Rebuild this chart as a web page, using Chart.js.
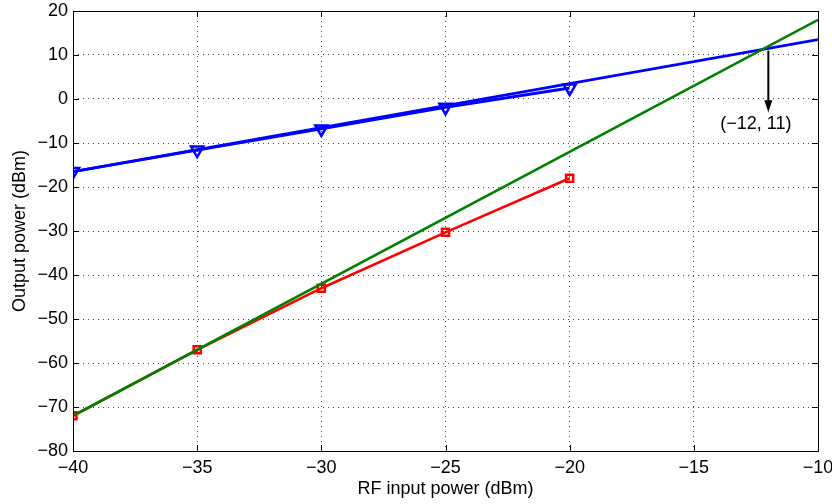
<!DOCTYPE html>
<html><head><meta charset="utf-8">
<script src="https://cdn.jsdelivr.net/npm/chart.js@4/dist/chart.umd.min.js"></script>
<style>html,body{margin:0;padding:0;background:#fff}#wrap{width:832px;height:504px}</style>
</head><body><div id="wrap"><canvas id="c" width="832" height="504"></canvas></div>
<script>
// Data
const inputPower = [-40, -35, -30, -25, -20];
const fundamentalOut = [-16.5, -11.6, -6.8, -1.9, 2.5];
const im3Out = [-72, -57, -43, -30.3, -18];
const fitX = [-40, -10];
const fundamentalFit = [-16.5, 13.5];
const im3Fit = [-72, 18];
const xTicks = [-40, -35, -30, -25, -20, -15, -10];
const yTicks = [20, 10, 0, -10, -20, -30, -40, -50, -60, -70, -80];
const arrowFrom = [-12, 11];
const arrowTo = [-12, -3];
const annotationText = '(\u221212, 11)';
const annotationPos = [-12.5, -5.8];

const pts = (xs, ys) => xs.map((x, i) => ({x, y: ys[i]}));
const minus = v => String(v).replace('-', '\u2212');
const FONT = 'Liberation Sans, Arial, Helvetica, sans-serif';

const boxPlugin = {
  id: 'box',
  afterDatasetsDraw(chart) {
    const {ctx, chartArea: a, scales: {x, y}} = chart;
    ctx.save();
    ctx.strokeStyle = '#000';
    ctx.lineWidth = 1;
    ctx.beginPath();
    const L = 6;
    xTicks.forEach(t => {
      const px = Math.round(x.getPixelForValue(t)) + 0.5;
      ctx.moveTo(px, a.bottom); ctx.lineTo(px, a.bottom - L);
      ctx.moveTo(px, a.top); ctx.lineTo(px, a.top + L);
    });
    yTicks.forEach(t => {
      const py = Math.round(y.getPixelForValue(t)) + 0.5;
      ctx.moveTo(a.left, py); ctx.lineTo(a.left + L, py);
      ctx.moveTo(a.right, py); ctx.lineTo(a.right - L, py);
    });
    ctx.stroke();
    ctx.strokeRect(Math.round(a.left) + 0.5, Math.round(a.top) + 0.5, Math.round(a.right - a.left), Math.round(a.bottom - a.top));
    // arrow
    const x0 = x.getPixelForValue(arrowFrom[0]), y0 = y.getPixelForValue(arrowFrom[1]);
    const x1 = x.getPixelForValue(arrowTo[0]), y1 = y.getPixelForValue(arrowTo[1]);
    ctx.lineWidth = 2;
    ctx.beginPath(); ctx.moveTo(x0, y0); ctx.lineTo(x1, y1 - 8); ctx.stroke();
    ctx.fillStyle = '#000';
    ctx.beginPath(); ctx.moveTo(x1, y1); ctx.lineTo(x1 - 4, y1 - 12); ctx.lineTo(x1 + 4, y1 - 12); ctx.closePath(); ctx.fill();
    ctx.font = '18px ' + FONT;
    ctx.textAlign = 'center'; ctx.textBaseline = 'middle';
    ctx.fillText(annotationText, x.getPixelForValue(annotationPos[0]), y.getPixelForValue(annotationPos[1]));
    ctx.restore();
  }
};

new Chart(document.getElementById('c'), {
  type: 'scatter',
  data: {
    datasets: [
      {data: pts(fitX, im3Fit), showLine: true, borderColor: '#008000', borderWidth: 2.6, pointRadius: 0, order: 0},
      {data: pts(inputPower, im3Out), showLine: true, borderColor: '#ff0000', backgroundColor: 'rgba(0,0,0,0)', borderWidth: 2.6,
        pointStyle: 'rect', pointRadius: 5, pointBorderWidth: 2.5, order: 1},
      {data: pts(fitX, fundamentalFit), showLine: true, borderColor: '#0000ff', borderWidth: 2.8, pointRadius: 0, order: 2},
      {data: pts(inputPower, fundamentalOut), showLine: true, borderColor: '#0000ff', backgroundColor: 'rgba(0,0,0,0)', borderWidth: 2.8,
        pointStyle: 'triangle', rotation: 180, pointRadius: 7, pointBorderWidth: 2.5, order: 3}
    ]
  },
  plugins: [boxPlugin],
  options: {
    responsive: false, animation: false,
    layout: {padding: {top: 11, right: 14, left: 0, bottom: 0}},
    plugins: {legend: {display: false}, tooltip: {enabled: false}},
    elements: {line: {tension: 0}},
    scales: {
      x: {
        type: 'linear', min: -40, max: -10,
        afterBuildTicks: s => { s.ticks = xTicks.map(v => ({value: v})); },
        afterFit: s => { s.height = 53; s.paddingLeft = 0; s.paddingRight = 0; },
        border: {display: false, dash: [1, 4]},
        grid: {color: '#444', lineWidth: 1, drawTicks: false},
        ticks: {color: '#000', font: {family: FONT, size: 18}, padding: 6, maxRotation: 0, callback: v => minus(v)},
        title: {display: true, text: 'RF input power (dBm)', color: '#000', font: {family: FONT, size: 18}, padding: {top: 0, bottom: 4}}
      },
      y: {
        type: 'linear', min: -80, max: 20,
        afterBuildTicks: s => { s.ticks = yTicks.map(v => ({value: v})); },
        afterFit: s => { s.width = 73; s.paddingTop = 0; s.paddingBottom = 0; },
        border: {display: false, dash: [1, 4]},
        grid: {color: '#444', lineWidth: 1, drawTicks: false},
        ticks: {color: '#000', font: {family: FONT, size: 18}, padding: 5, callback: v => minus(v)},
        title: {display: true, text: 'Output power (dBm)', color: '#000', font: {family: FONT, size: 18}, padding: {top: 9, bottom: 4}}
      }
    }
  }
});
</script></body></html>
